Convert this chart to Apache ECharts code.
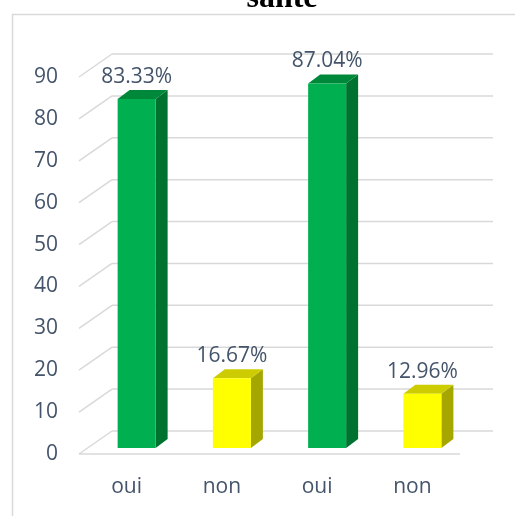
<!DOCTYPE html>
<html>
<head>
<meta charset="utf-8">
<script src="https://cdn.jsdelivr.net/npm/echarts@6/dist/echarts.min.js"></script>
<style>
html,body{margin:0;padding:0;background:#fff;}
#c{width:515px;height:516px;}
</style>
</head>
<body>
<div id="c"></div>
<script>
const categories = ['oui', 'non', 'oui', 'non'];
const values = [83.33, 16.67, 87.04, 12.96];
const valueLabels = ['83.33', '16.67', '87.04', '12.96'];
const yTicks = [0, 10, 20, 30, 40, 50, 60, 70, 80, 90];
const titleText = 'santé';

const TEXT = '#44546A';
const GRID = '#D9D9D9';
const DX = 33, DY = -23;          // wall depth
const BX = 12, BY = -9;           // bar depth
const FRONT_COLORS = ['#00B050', '#FFFF00', '#00B050', '#FFFF00'];
const TOP_COLORS = ['#00883A', '#CCCC00', '#00883A', '#CCCC00'];
const SIDE_COLORS = ['#00722F', '#A6A600', '#00722F', '#A6A600'];

const chart = echarts.init(document.getElementById('c'));
chart.setOption({
  animation: false,
  backgroundColor: '#fff',
  graphic: [
    { type: 'rect', shape: { x: 12.5, y: 14.5, width: 700, height: 700 },
      style: { fill: 'none', stroke: GRID, lineWidth: 1.5 }, z: 0 },
    { type: 'text', x: 282, y: -1,
      style: { text: titleText, textAlign: 'center', textVerticalAlign: 'middle',
        font: 'bold 32px "Liberation Serif"', fill: '#000' } }
  ],
  grid: { left: 79, right: 55, top: 77, bottom: 62, containLabel: false },
  xAxis: {
    type: 'category', data: categories,
    axisLine: { show: false }, axisTick: { show: false },
    axisLabel: { color: TEXT, fontSize: 21, fontFamily: 'Open Sans', margin: 23 }
  },
  yAxis: {
    type: 'value', min: 0, max: 90, interval: 10,
    axisLine: { show: false }, axisTick: { show: false }, splitLine: { show: false },
    axisLabel: { color: TEXT, fontSize: 21, fontFamily: 'Open Sans', margin: 21 }
  },
  series: [
    {
      type: 'custom', z: 1, silent: true,
      data: yTicks.map(v => [0, v]),
      renderItem: function (params, api) {
        const cs = params.coordSys;
        const v = api.value(1);
        const y = api.coord([0, v])[1];
        const st = { stroke: GRID, lineWidth: 1.5 };
        const children = [
          { type: 'line', shape: { x1: cs.x, y1: y, x2: cs.x + DX, y2: y + DY }, style: st },
          { type: 'line', shape: { x1: cs.x + DX, y1: y + DY, x2: cs.x + cs.width + DX, y2: y + DY }, style: st }
        ];
        if (v === 0) {
          children.push({ type: 'line', shape: { x1: cs.x, y1: y, x2: cs.x + cs.width, y2: y }, style: st });
        }
        return { type: 'group', children: children };
      }
    },
    {
      type: 'custom', z: 5, silent: true,
      data: values.map((v, i) => [i, v]),
      renderItem: function (params, api) {
        const i = api.value(0);
        const base = api.coord([i, 0]);
        const top = api.coord([i, api.value(1)]);
        const cx = base[0] + 10;
        const hw = 19;
        const yb = base[1] - 6, yt = top[1] - 6;
        const xl = cx - hw, xr = cx + hw;
        return {
          type: 'group',
          children: [
            { type: 'polygon', shape: { points: [[xr, yt], [xr + BX, yt + BY], [xr + BX, yb + BY], [xr, yb]] },
              style: { fill: SIDE_COLORS[i] } },
            { type: 'polygon', shape: { points: [[xl, yt], [xl + BX, yt + BY], [xr + BX, yt + BY], [xr, yt]] },
              style: { fill: TOP_COLORS[i] } },
            { type: 'rect', shape: { x: xl, y: yt, width: 2 * hw, height: yb - yt },
              style: { fill: FRONT_COLORS[i] } },
            { type: 'text', x: cx, y: yt - 22,
              style: {
                text: valueLabels[i] + '%',
                textAlign: 'center', textVerticalAlign: 'middle',
                font: '21px "Open Sans"', fill: TEXT
              } }
          ]
        };
      }
    }
  ]
});
</script>
</body>
</html>
